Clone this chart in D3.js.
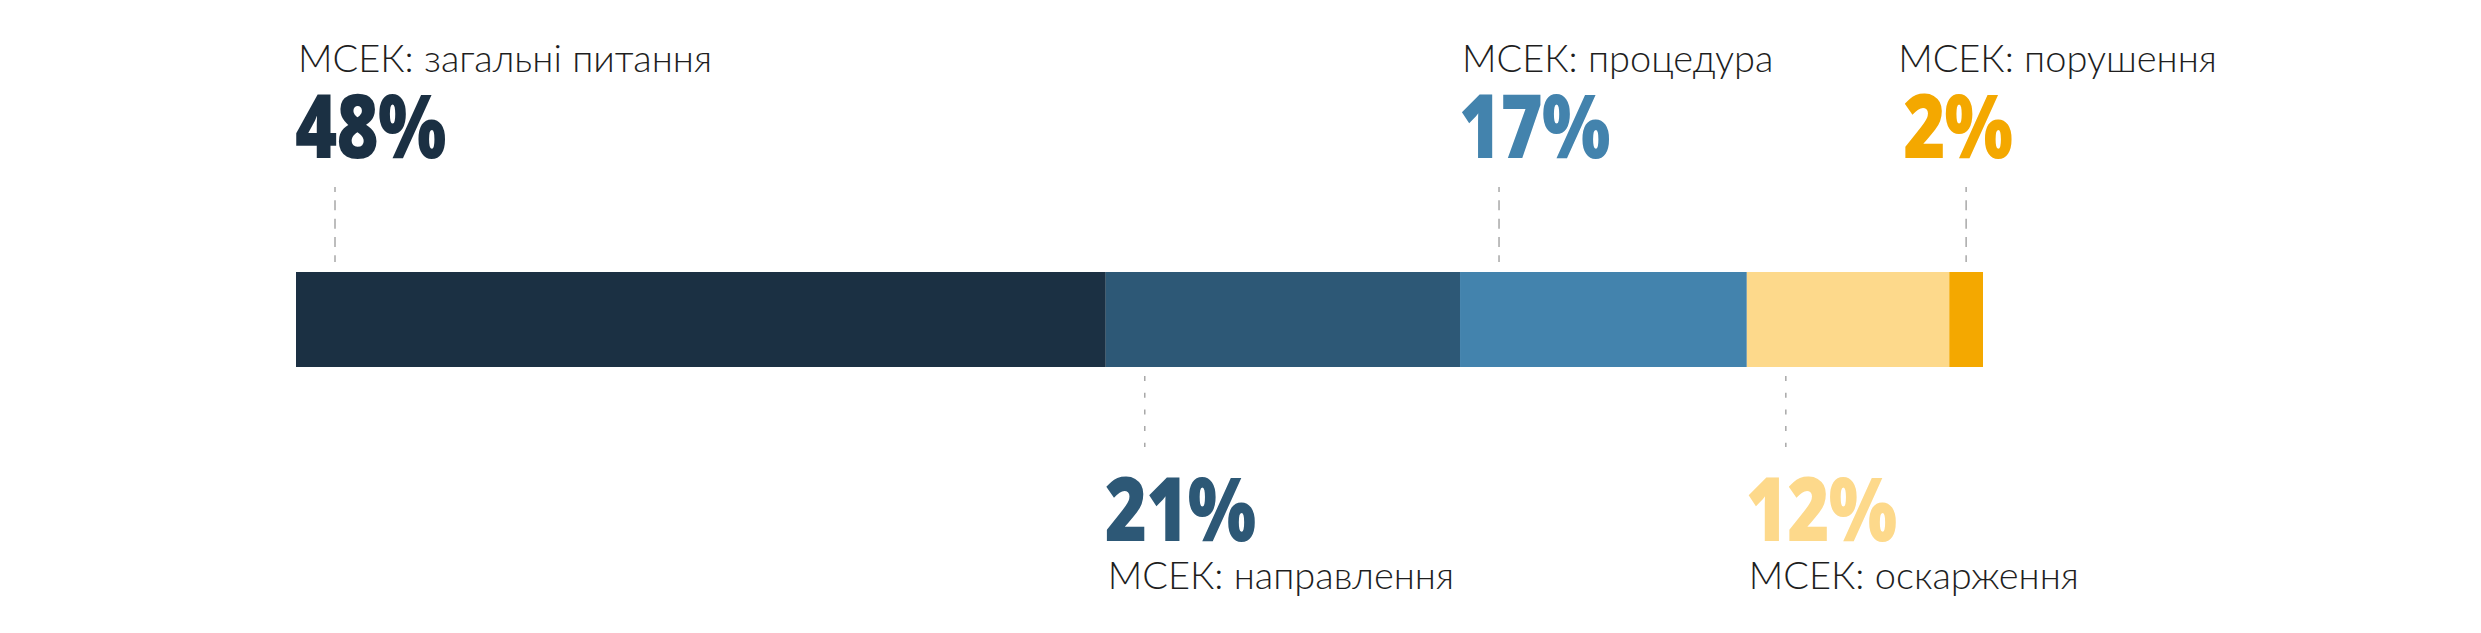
<!DOCTYPE html>
<html>
<head>
<meta charset="utf-8">
<script src="https://cdn.jsdelivr.net/npm/d3@7"></script>
<style>
  html, body { margin: 0; padding: 0; background: #ffffff; }
  svg { display: block; }
  .cat { font-family: "Lato", "Open Sans", "Noto Sans", sans-serif; font-weight: 300; font-size: 38px; fill: #1e1e1e; }
  .pct { font-family: "Open Sans", "Roboto", "Noto Sans", sans-serif; font-weight: 800; font-size: 88px; letter-spacing: -1px; }
</style>
</head>
<body>
<script>
// ---- data ----
const categories = ["МСЕК: загальні питання", "МСЕК: направлення", "МСЕК: процедура", "МСЕК: оскарження", "МСЕК: порушення"];
const values = [48, 21, 17, 12, 2];
const palette = ["#1b3043", "#2d5876", "#4383ad", "#fdd98b", "#f4a800"];

// ---- layout ----
const W = 2481, H = 633;
const barTop = 272, barBottom = 367;
const pctScaleX = 0.82;

const svg = d3.select("body").append("svg").attr("width", W).attr("height", H);

const x = d3.scaleLinear().domain([0, d3.sum(values)]).range([296, 1983]);
const color = d3.scaleOrdinal().domain(categories).range(palette);

let acc = 0;
const items = categories.map((c, i) => {
  const d = { cat: c, value: values[i], start: acc, end: acc + values[i], i };
  acc += values[i];
  return d;
});

// bars
svg.append("g").selectAll("rect").data(items).join("rect")
  .attr("x", d => x(d.start))
  .attr("y", barTop)
  .attr("width", d => x(d.end) - x(d.start))
  .attr("height", barBottom - barTop)
  .attr("fill", d => color(d.cat));

function pctText(g, d, tx, ty) {
  g.append("g").attr("transform", `translate(${tx},${ty}) scale(${pctScaleX},1)`)
    .append("text").attr("class", "pct").attr("x", 0).attr("y", 0)
    .attr("fill", color(d.cat)).text(d.value + "%");
}

const last = items.length - 1;
items.forEach(d => {
  const x0 = x(d.start), x1 = x(d.end);
  const lx = x0 + Math.min(39, (x1 - x0) / 2);
  const tx = d.i === last ? lx - 68 : x0 + 2;
  const top = d.i % 2 === 0;
  const g = svg.append("g");
  if (top) {
    g.append("line").attr("x1", lx).attr("x2", lx).attr("y1", 187).attr("y2", 262)
      .attr("stroke", "#a8a8a8").attr("stroke-width", 1.5)
      .attr("stroke-dasharray", "10,8.33").attr("stroke-dashoffset", 5);
    g.append("text").attr("class", "cat").attr("x", tx).attr("y", 72).text(d.cat);
    pctText(g, d, tx - 3 + (d.i === last ? 8 : 0), 158);
  } else {
    g.append("line").attr("x1", lx).attr("x2", lx).attr("y1", 376).attr("y2", 447)
      .attr("stroke", "#a8a8a8").attr("stroke-width", 1.5)
      .attr("stroke-dasharray", "5,11.7");
    pctText(g, d, tx - 3, 541);
    g.append("text").attr("class", "cat").attr("x", tx).attr("y", 589).text(d.cat);
  }
});
</script>
</body>
</html>
